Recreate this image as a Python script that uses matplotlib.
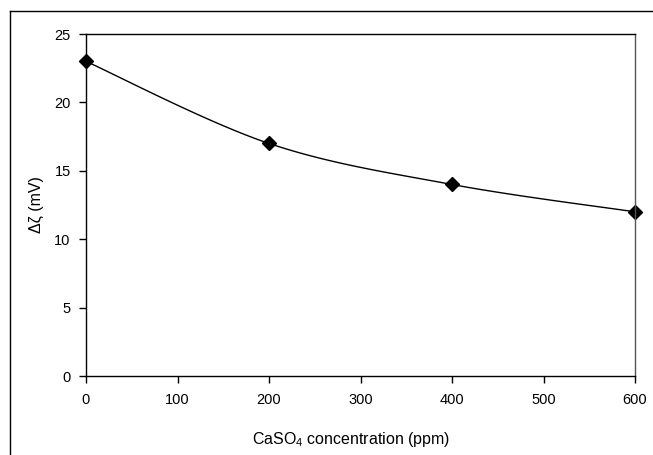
import numpy as np
import matplotlib.pyplot as plt
from matplotlib.lines import Line2D

plt.rcParams['font.family'] = ['Liberation Sans', 'DejaVu Sans']
plt.rcParams['mathtext.fontset'] = 'custom'
plt.rcParams['mathtext.rm'] = 'Liberation Sans'

conc = [0, 200, 400, 600]
dzeta = [23, 17, 14, 12]
xticks = [0, 100, 200, 300, 400, 500, 600]
yticks = [0, 5, 10, 15, 20, 25]


def smooth(xs, ys, n=40):
    # Excel-style smoothed line: cubic Bezier segments with Catmull-Rom handles
    xs = np.asarray(xs, float)
    ys = np.asarray(ys, float)
    px = np.concatenate([[xs[0]], xs, [xs[-1]]])
    py = np.concatenate([[ys[0]], ys, [ys[-1]]])
    outx, outy = [], []
    t = np.linspace(0, 1, n)
    for i in range(1, len(px) - 2):
        p0 = np.array([px[i], py[i]])
        p3 = np.array([px[i + 1], py[i + 1]])
        c1 = p0 + (np.array([px[i + 1], py[i + 1]]) - np.array([px[i - 1], py[i - 1]])) / 6
        c2 = p3 - (np.array([px[i + 2], py[i + 2]]) - np.array([px[i], py[i]])) / 6
        b = ((1 - t) ** 3)[:, None] * p0 + (3 * (1 - t) ** 2 * t)[:, None] * c1 \
            + (3 * (1 - t) * t ** 2)[:, None] * c2 + (t ** 3)[:, None] * p3
        outx.extend(b[:, 0])
        outy.extend(b[:, 1])
    return outx, outy


fig = plt.figure(figsize=(6.53, 4.55), dpi=100)
ax = fig.add_axes([86 / 653, 1 - 376 / 455, (635 - 86) / 653, (376 - 34) / 455])

sx, sy = smooth(conc, dzeta)
ax.plot(sx, sy, color='black', lw=1.0)
ax.plot(conc, dzeta, linestyle='none', marker='D', markersize=7.5, color='black', clip_on=False)

ax.set_xlim(0, 600)
ax.set_ylim(0, 25)
ax.set_xticks(xticks)
ax.set_yticks(yticks)
ax.tick_params(direction='out', length=5, width=1, labelsize=10.5, pad=6)
ax.tick_params(axis='x', pad=7.5)
for s in ax.spines.values():
    s.set_linewidth(1.0)
ax.spines['right'].set_color('#555555')

ax.set_xlabel('CaSO$_4$ concentration (ppm)', fontsize=11.5)
ax.xaxis.set_label_coords(0.482, -0.158)
ax.set_ylabel('Δζ (mV)', fontsize=11.5)
ax.yaxis.set_label_coords(-0.077, 0.5)

# outer chart border (left and top edges)
fig.add_artist(Line2D([10 / 653, 10 / 653], [0, 1 - 11 / 455], color='black', lw=1.0))
fig.add_artist(Line2D([10 / 653, 1], [1 - 11 / 455, 1 - 11 / 455], color='black', lw=1.0))

fig.savefig('out.png', dpi=100)
